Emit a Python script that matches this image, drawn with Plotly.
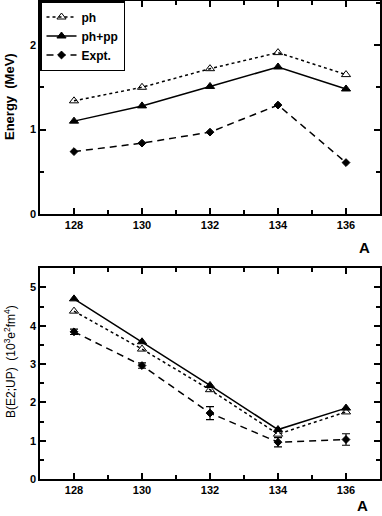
import plotly.graph_objects as go

A = [128, 130, 132, 134, 136]
# Top panel: energies (MeV)
e_ph = [1.34, 1.50, 1.72, 1.91, 1.65]
e_phpp = [1.10, 1.28, 1.51, 1.74, 1.48]
e_expt = [0.74, 0.84, 0.97, 1.29, 0.61]
# Bottom panel: B(E2;UP) (10^3 e^2 fm^4)
b_ph = [4.38, 3.39, 2.33, 1.17, 1.75]
b_phpp = [4.70, 3.58, 2.44, 1.29, 1.85]
b_expt = [3.84, 2.96, 1.72, 0.96, 1.03]
b_expt_err = [0.07, 0.07, 0.17, 0.12, 0.15]

x_ticks = [128, 130, 132, 134, 136]

FONT = "Liberation Sans, Arial, Helvetica, sans-serif"

fig = go.Figure()

def add(y, name, dash, symbol, size, xa, ya, show, err=None):
    kw = {}
    if err is not None:
        kw["error_y"] = dict(type="data", array=err, visible=True, color="black",
                             thickness=1.2, width=4)
    fig.add_trace(go.Scatter(
        x=A, y=y, name=name, mode="lines+markers", xaxis=xa, yaxis=ya,
        showlegend=show,
        line=dict(color="black", width=1.5, dash=dash),
        marker=dict(symbol=symbol, size=size,
                    color="black", line=dict(color="black", width=1)),
        **kw))

add(e_ph, "ph", "dot", "triangle-up-open", 8, "x", "y", True)
add(e_phpp, "ph+pp", "solid", "triangle-up", 8, "x", "y", True)
add(e_expt, "Expt.", "7px,5px", "diamond", 6, "x", "y", True)

add(b_ph, "ph", "dot", "triangle-up-open", 8, "x2", "y2", False)
add(b_phpp, "ph+pp", "solid", "triangle-up", 8, "x2", "y2", False)
add(b_expt, "Expt.", "7px,5px", "diamond", 6, "x2", "y2", False, err=b_expt_err)

axis_common = dict(
    showline=True, linecolor="black", linewidth=1.5, mirror="allticks",
    ticks="inside", ticklen=6, tickwidth=1.5, tickcolor="black",
    showgrid=False, zeroline=False,
    tickfont=dict(family=FONT, size=11, color="black", weight="bold"),
)

fig.update_layout(
    width=382, height=516,
    margin=dict(l=40, r=2, t=1, b=37, autoexpand=False),
    paper_bgcolor="white", plot_bgcolor="white",
    font=dict(family=FONT, color="black"),
    xaxis=dict(domain=[0, 1], range=[127, 137], tickvals=x_ticks, anchor="y",
               minor=dict(ticks="inside", dtick=1, tick0=127, ticklen=4,
                          tickwidth=1.5, tickcolor="black"),
               **axis_common),
    yaxis=dict(domain=[0.554, 1], range=[0, 2.52], tickvals=[0, 1, 2], anchor="x",
               minor=dict(ticks="inside", dtick=0.5, tick0=0, ticklen=4,
                          tickwidth=1.5, tickcolor="black"),
               **axis_common),
    xaxis2=dict(domain=[0, 1], range=[127, 137], tickvals=x_ticks, anchor="y2",
                minor=dict(ticks="inside", dtick=1, tick0=127, ticklen=4,
                           tickwidth=1.5, tickcolor="black"),
                **axis_common),
    yaxis2=dict(domain=[0, 0.441], range=[0, 5.5], tickvals=[0, 1, 2, 3, 4, 5], anchor="x2",
                minor=dict(ticks="inside", dtick=0.5, tick0=0, ticklen=4,
                           tickwidth=1.5, tickcolor="black"),
                **axis_common),
    legend=dict(x=0, y=1, xanchor="left", yanchor="top", xref="paper", yref="paper",
                bgcolor="white", bordercolor="black", borderwidth=1.5,
                font=dict(family=FONT, size=12, color="black", weight="bold"),
                itemwidth=30, tracegroupgap=0),
    showlegend=True,
)

plot_h = 516 - 1 - 37
plot_w = 382 - 40 - 2
def px_to_paper(px, py):
    return (px - 40) / plot_w, (516 - 37 - py) / plot_h

for txt, px, py, size, ang, w in [
    ("A", 364, 247, 15, 0, "bold"),
    ("A", 362, 505, 15, 0, "bold"),
    ("Energy  (MeV)", 10, 97, 13, -90, "bold"),
    ("B(E2;UP)  (10<sup>3</sup>e<sup>2</sup>fm<sup>4</sup>)", 10, 362, 12, -90, "normal"),
]:
    xx, yy = px_to_paper(px, py)
    fig.add_annotation(text=txt, x=xx, y=yy, xref="paper", yref="paper",
                       xanchor="center", yanchor="middle",
                       showarrow=False, textangle=ang,
                       font=dict(family=FONT, size=size, color="black", weight=w))

fig.write_html("out.html", config={"displayModeBar": False},
               post_script="document.body.style.margin='0';document.body.style.overflow='hidden';")
